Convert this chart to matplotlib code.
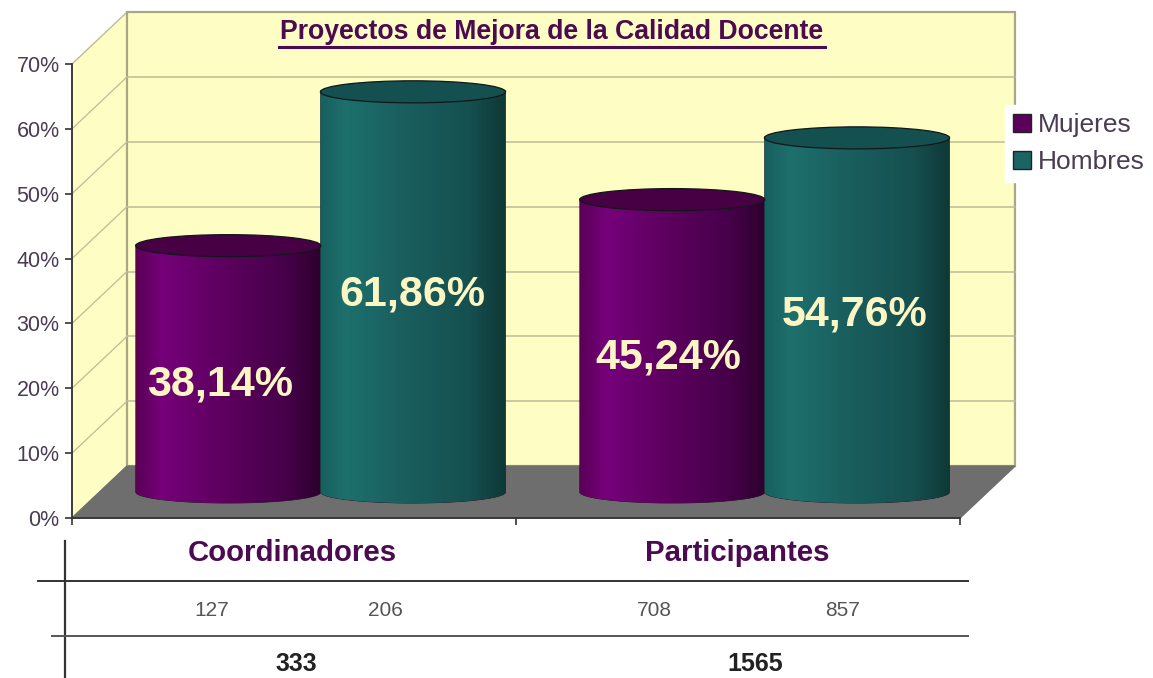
import numpy as np
import matplotlib as mpl
mpl.use("Agg")
import matplotlib.pyplot as plt
from matplotlib.patches import Polygon, Ellipse, Patch
from matplotlib.colors import LinearSegmentedColormap

plt.rcParams['font.family'] = ['Liberation Sans', 'DejaVu Sans']

titulo = "Proyectos de Mejora de la Calidad Docente"
grupos = ["Coordinadores", "Participantes"]
series = ["Mujeres", "Hombres"]
mujeres = [38.14, 45.24]
hombres = [61.86, 54.76]
etiquetas = ["38,14%", "61,86%", "45,24%", "54,76%"]
n_mujeres = [127, 708]
n_hombres = [206, 857]
totales = [333, 1565]
yticks = [0, 10, 20, 30, 40, 50, 60, 70]

W, H = 1153, 678
fig = plt.figure(figsize=(W/100, H/100), dpi=100, facecolor='white')
# front plane of the fake 3d box
x0, x1, ytop, ybot = 72, 960, 64, 518
ax = fig.add_axes([x0/W, 1-ybot/H, (x1-x0)/W, (ybot-ytop)/H])
ax.set_xlim(0, 2)
ax.set_ylim(0, 70)
ax.patch.set_alpha(0)

dx = 55/444.0   # depth offset in data units
dy = 8.0
wall = '#fefdc4'
gridc = '#bcbc96'
purple = '#4c0a50'
txtc = '#4a3c52'

# walls and floor
ax.add_patch(Polygon([(0, 0), (dx, dy), (dx, 70+dy), (0, 70)], fc=wall, ec=gridc, lw=1.0, clip_on=False, zorder=1))
ax.add_patch(Polygon([(dx, dy), (2+dx, dy), (2+dx, 70+dy), (dx, 70+dy)], fc=wall, ec='#a8a884', lw=1.6, clip_on=False, zorder=1))
for v in yticks[1:-1]:
    ax.plot([dx, 2+dx], [v+dy, v+dy], color=gridc, lw=1.1, clip_on=False, zorder=2)
    ax.plot([0, dx], [v, v+dy], color=gridc, lw=0.9, clip_on=False, zorder=2)
ax.add_patch(Polygon([(0, 0), (2, 0), (2+dx, dy), (dx, dy)], fc='#6e6e6e', ec='#6e6e6e', clip_on=False, zorder=2))

cm_m = LinearSegmentedColormap.from_list('m', [(0, '#5a0056'), (0.14, '#76007a'), (0.45, '#5e0060'), (0.8, '#47004a'), (1, '#2c002c')])
cm_h = LinearSegmentedColormap.from_list('h', [(0, '#175f5f'), (0.14, '#1d706c'), (0.45, '#1a5e5e'), (0.8, '#165050'), (1, '#0e3836')])
grad = np.linspace(0, 1, 256).reshape(1, -1)
ancho = 0.417
ry = 1.7  # half height of the ellipses


def cilindro(cx, val, cmap, ctop):
    base = dy/2
    t = np.linspace(np.pi, 2*np.pi, 60)
    xs = cx + ancho/2*np.cos(t)
    ys = base + ry*np.sin(t)
    pts = [(cx-ancho/2, val+base)] + list(zip(xs, ys)) + [(cx+ancho/2, val+base)]
    body = Polygon(pts, fc='none', ec='#1a0a1a', lw=0.5, clip_on=False, zorder=3)
    ax.add_patch(body)
    im = ax.imshow(grad, cmap=cmap, aspect='auto', zorder=3,
                   extent=(cx-ancho/2, cx+ancho/2, base-ry, val+base), clip_on=True)
    im.set_clip_path(body)
    ax.add_patch(Ellipse((cx, val+base-0.15), ancho, 2*ry, fc=ctop, ec='#12181a', lw=0.9, clip_on=False, zorder=4))


desp_m, desp_h = -0.148, 0.268
centros = [0.5, 1.5]
for i, c in enumerate(centros):
    cilindro(c+desp_m, mujeres[i], cm_m, '#470044')
    cilindro(c+desp_h, hombres[i], cm_h, '#14504f')
ax.set_xlim(0, 2)
ax.set_ylim(0, 70)

# value labels, positions
lab_x = [0.334, 0.766, 1.342, 1.763]
lab_y = [20.6, 34.5, 24.7, 31.4]
for x, y, s in zip(lab_x, lab_y, etiquetas):
    ax.text(x, y, s, color='#fbf6c4', fontsize=31, fontweight='bold', ha='center', va='center', zorder=6)

# axes
for s in ['top', 'right']:
    ax.spines[s].set_visible(False)
for s in ['left', 'bottom']:
    ax.spines[s].set_color('#333333')
    ax.spines[s].set_linewidth(1.3)
    ax.spines[s].set_zorder(5)
ax.set_yticks(yticks)
ax.set_yticklabels([f"{v}%" for v in yticks], fontsize=15.5, color=txtc)
ax.set_xticks([0, 1, 2])
ax.set_xticklabels([])
ax.tick_params(axis='y', length=5, width=1.2, color='#333333', pad=4)
ax.tick_params(axis='x', length=5, width=1.2, color='#333333')

# legend
hs = [Patch(fc='#5c005c', ec='#222222'), Patch(fc='#1b6464', ec='#222222')]
leg = ax.legend(hs, series, loc='upper left', bbox_to_anchor=(1005/W, 1-105/H), bbox_transform=fig.transFigure,
                frameon=True, framealpha=1, facecolor='white', edgecolor='white', fontsize=19, labelcolor=txtc,
                handlelength=0.68, handleheight=0.68, handletextpad=0.25, labelspacing=0.5,
                borderpad=0.3, borderaxespad=0, fancybox=False)
leg.set_zorder(8)

# overlay in pixels for title and the table under the chart
ov = fig.add_axes([0, 0, 1, 1])
ov.set_xlim(0, W)
ov.set_ylim(H, 0)
ov.axis('off')
ov.text(552, 32, titulo, color=purple, fontsize=19.2, fontweight='bold', ha='center', va='center')
ov.plot([279, 825], [46.5, 46.5], color=purple, lw=2.2)

ov.plot([65, 65], [541, 678], color='#333333', lw=1.6)
ov.plot([38, 968], [581, 581], color='#333333', lw=1.4)
ov.plot([52, 968], [636, 636], color='#555555', lw=1.4)
gx = [292, 737]
fx = [(212, 385), (654, 843)]
tx = [296, 755]
for i in range(2):
    ov.text(gx[i], 553, grupos[i], color=purple, fontsize=21.2, fontweight='bold', ha='center', va='center')
    ov.text(fx[i][0], 611, str(n_mujeres[i]), color='#555555', fontsize=15, ha='center', va='center')
    ov.text(fx[i][1], 611, str(n_hombres[i]), color='#555555', fontsize=15, ha='center', va='center')
    ov.text(tx[i], 664, str(totales[i]), color='#222222', fontsize=18, fontweight='bold', ha='center', va='center')

fig.savefig("out.png", dpi=100)
